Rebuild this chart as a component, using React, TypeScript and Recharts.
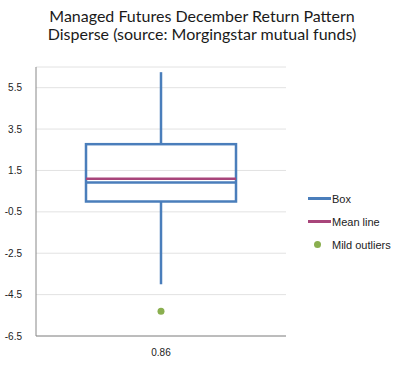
import {
  Bar,
  CartesianGrid,
  ComposedChart,
  Scatter,
  XAxis,
  YAxis,
} from "recharts";

const categories = ["0.86"];
const whiskerMin = [-4.0];
const quartile1 = [0.0];
const medians = [0.92];
const means = [1.1];
const quartile3 = [2.77];
const whiskerMax = [6.25];
const mildOutliers = [-5.3];
const yTicks = [-6.5, -4.5, -2.5, -0.5, 1.5, 3.5, 5.5];

const data = categories.map((name, i) => ({
  name,
  box: [quartile1[i], quartile3[i]],
  upper: [quartile3[i], whiskerMax[i]],
  lower: [whiskerMin[i], quartile1[i]],
  q1: quartile1[i],
  q3: quartile3[i],
  median: medians[i],
  mean: means[i],
  outlier: mildOutliers[i],
}));

const BOX = "#4a7ebb";
const MEAN = "#a8457a";
const OUTLIER = "#8aaf4f";

const BoxShape = (props: any) => {
  const { x, y, width, height, payload } = props;
  const span = payload.q3 - payload.q1;
  const yMed = y + (height * (payload.q3 - payload.median)) / span;
  const yMean = y + (height * (payload.q3 - payload.mean)) / span;
  return (
    <g>
      <rect x={x} y={y} width={width} height={height} fill="none" stroke={BOX} strokeWidth={2.5} />
      <line x1={x} x2={x + width} y1={yMed} y2={yMed} stroke={BOX} strokeWidth={2.5} />
      <line x1={x} x2={x + width} y1={yMean} y2={yMean} stroke={MEAN} strokeWidth={2.5} />
    </g>
  );
};

const WhiskerShape = (props: any) => {
  const { x, y, width, height } = props;
  const cx = x + width / 2;
  return <line x1={cx} x2={cx} y1={y} y2={y + height} stroke={BOX} strokeWidth={2.5} />;
};

const Dot = (props: any) => (
  <circle cx={props.cx} cy={props.cy} r={3.5} fill={OUTLIER} />
);

const tickStyle = { fill: "#222", fontSize: 10, fontFamily: "Liberation Sans, Arial, sans-serif" };

export default function App() {
  return (
    <div
      style={{
        position: "absolute",
        left: 0,
        top: 0,
        width: 400,
        height: 368,
        background: "#fff",
        fontFamily: "Lato, sans-serif",
      }}
    >
      {/* Title */}
      <div
        style={{
          position: "absolute",
          left: 0,
          width: 404,
          top: 7,
          textAlign: "center",
          fontSize: 16,
          lineHeight: "18px",
          color: "#1a1a1a",
        }}
      >
        Managed Futures December Return Pattern
        <br />
        Disperse (source: Morgingstar mutual funds)
      </div>

      <ComposedChart
        width={400}
        height={368}
        data={data}
        margin={{ top: 67, right: 114, bottom: 0, left: 0 }}
      >
        <CartesianGrid vertical={false} stroke="#e2e2e2" />
        <XAxis xAxisId="box" dataKey="name" hide height={0} />
        <XAxis xAxisId="hi" dataKey="name" hide height={0} />
        <XAxis xAxisId="lo" dataKey="name" hide height={0} />
        <XAxis
          xAxisId="main"
          dataKey="name"
          stroke="#888"
          tickLine={false}
          tick={tickStyle}
          tickMargin={7}
          height={32}
        />
        <YAxis
          domain={[-6.5, 6.5]}
          ticks={yTicks}
          stroke="#888"
          tickLine={false}
          tick={tickStyle}
          tickMargin={8}
          width={36}
          interval={0}
        />
        <Bar xAxisId="hi" dataKey="upper" barSize={150} shape={WhiskerShape} isAnimationActive={false} />
        <Bar xAxisId="lo" dataKey="lower" barSize={150} shape={WhiskerShape} isAnimationActive={false} />
        <Bar xAxisId="box" dataKey="box" barSize={150} shape={BoxShape} isAnimationActive={false} />
        <Scatter xAxisId="main" dataKey="outlier" shape={Dot} isAnimationActive={false} />
      </ComposedChart>

      {/* Legend */}
      <div style={{ position: "absolute", left: 307, top: 187, fontSize: 11, color: "#222", fontFamily: "Liberation Sans, Arial, sans-serif" }}>
        {[
          { label: "Box", color: BOX, kind: "line" },
          { label: "Mean line", color: MEAN, kind: "line" },
          { label: "Mild outliers", color: OUTLIER, kind: "dot" },
        ].map((item) => (
          <div key={item.label} style={{ display: "flex", alignItems: "center", height: 23 }}>
            <div style={{ width: 25, display: "flex", alignItems: "center", justifyContent: "center" }}>
              {item.kind === "line" ? (
                <div style={{ width: 23, height: 2.5, background: item.color }} />
              ) : (
                <div style={{ width: 7, height: 7, borderRadius: "50%", background: item.color, marginLeft: -5 }} />
              )}
            </div>
            <span>{item.label}</span>
          </div>
        ))}
      </div>
    </div>
  );
}
